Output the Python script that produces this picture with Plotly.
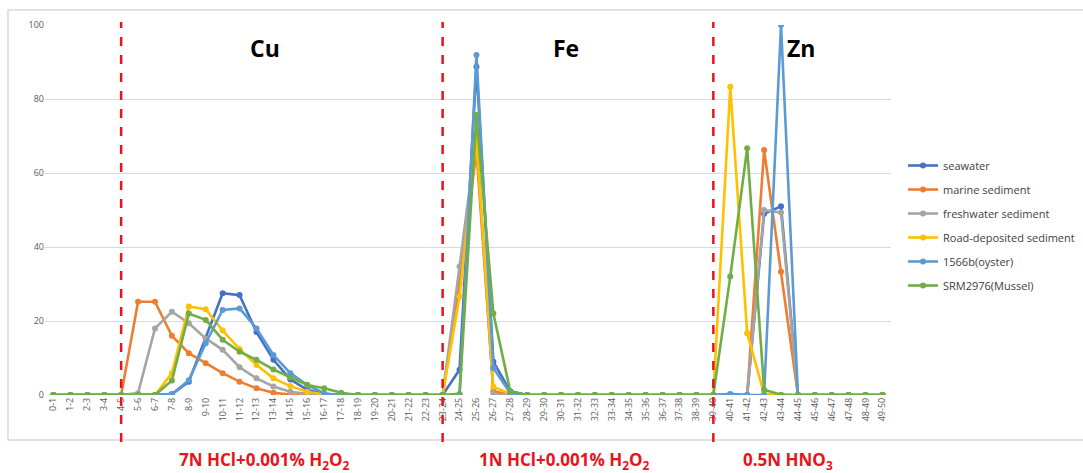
import plotly.graph_objects as go

categories = [f"{i}-{i+1}" for i in range(50)]

def series(nonzero):
    v = [0.0] * 50
    for k, val in nonzero.items():
        v[k] = val
    return v

seawater = series({7: 0.2, 8: 3.6, 9: 15.3, 10: 27.5, 11: 27.0, 12: 17.0, 13: 9.5, 14: 4.2, 15: 1.4, 16: 0.3,
                   24: 6.8, 25: 88.7, 26: 9.0, 27: 1.0,
                   42: 49.0, 43: 51.0})
marine = series({5: 25.2, 6: 25.2, 7: 16.0, 8: 11.3, 9: 8.6, 10: 5.9, 11: 3.6, 12: 1.8, 13: 0.6, 14: 0.1,
                 24: 30.0, 25: 66.0, 26: 1.0,
                 42: 66.2, 43: 33.3})
freshwater = series({5: 0.5, 6: 18.0, 7: 22.5, 8: 19.4, 9: 15.3, 10: 12.2, 11: 7.5, 12: 4.5, 13: 2.3, 14: 0.9, 15: 0.3,
                     24: 34.7, 25: 70.0, 26: 0.2,
                     42: 50.0, 43: 49.3})
road = series({7: 5.9, 8: 23.9, 9: 23.2, 10: 17.4, 11: 12.4, 12: 8.1, 13: 4.5, 14: 2.4, 15: 0.9, 16: 0.2,
               24: 26.6, 25: 69.0, 26: 2.2, 27: 0.3,
               40: 83.3, 41: 16.7, 42: 0.3})
oyster = series({7: 0.3, 8: 4.0, 9: 14.0, 10: 23.0, 11: 23.4, 12: 18.0, 13: 10.8, 14: 5.9, 15: 2.7, 16: 0.4,
                 24: 0.3, 25: 91.9, 26: 7.3, 27: 0.5,
                 40: 0.3, 43: 100.0})
mussel = series({7: 3.9, 8: 22.0, 9: 20.3, 10: 14.9, 11: 11.7, 12: 9.5, 13: 6.9, 14: 4.7, 15: 2.7, 16: 1.8, 17: 0.6,
                 25: 75.7, 26: 22.0, 27: 1.0,
                 40: 32.0, 41: 66.7, 42: 1.4, 43: 0.1})

names = ["seawater", "marine sediment", "freshwater sediment", "Road-deposited sediment", "1566b(oyster)", "SRM2976(Mussel)"]
colors = ["#4472C4", "#ED7D31", "#A5A5A5", "#FFC000", "#5B9BD5", "#70AD47"]
data = [seawater, marine, freshwater, road, oyster, mussel]

divider_idx = [4, 23, 39]
element_labels = ["Cu", "Fe", "Zn"]
element_x = [12.5, 30.3, 44.2]
reagent_labels = ["7N HCl+0.001% H<sub>2</sub>O<sub>2</sub>", "1N HCl+0.001% H<sub>2</sub>O<sub>2</sub>", "0.5N HNO<sub>3</sub>"]
reagent_x = [12.5, 30.2, 43.4]

fig = go.Figure()
for n, c, d in zip(names, colors, data):
    fig.add_trace(go.Scatter(x=categories, y=d, name=n, mode="lines+markers", legendgroup=n,
                             line=dict(color=c, width=2.6), marker=dict(color=c, size=6)))

W, H = 1083, 473
L, R, T, B = 45, 1083 - 891, 25, 473 - 395
pw, ph = W - L - R, H - T - B

def px(x):
    return (x - L) / pw

def py(y):
    return (H - B - y) / ph

shapes = []
# outer chart border
shapes.append(dict(type="rect", xref="paper", yref="paper", x0=px(8), x1=px(1090), y0=py(440), y1=py(10),
                   line=dict(color="#d9d9d9", width=1.5), fillcolor="rgba(0,0,0,0)", layer="below"))
for i in divider_idx:
    shapes.append(dict(type="line", xref="x", yref="paper", x0=categories[i], x1=categories[i],
                       y0=py(442), y1=py(22), line=dict(color="#E8141B", width=2.5, dash="dash")))

annotations = []
for lab, xi in zip(element_labels, element_x):
    annotations.append(dict(x=xi, y=py(48), xref="x", yref="paper", text=f"<b>{lab}</b>", showarrow=False,
                            font=dict(size=23, color="#000000", family="Open Sans, Arial"), xanchor="center", yanchor="middle"))
for lab, xi in zip(reagent_labels, reagent_x):
    annotations.append(dict(x=xi, y=py(460), xref="x", yref="paper", text=f"<b>{lab}</b>", showarrow=False,
                            font=dict(size=17, color="#E8141B", family="Open Sans, Arial"), xanchor="center", yanchor="middle"))

fig.update_layout(
    width=W, height=H, margin=dict(l=L, r=R, t=T, b=B, autoexpand=False),
    paper_bgcolor="white", plot_bgcolor="white",
    showlegend=True,
    legend=dict(x=px(903), y=py(151), xanchor="left", yanchor="top", font=dict(size=11, color="#404040", family="Open Sans, Arial"),
                tracegroupgap=5, itemwidth=30, bgcolor="rgba(0,0,0,0)"),
    xaxis=dict(type="category", range=[-0.5, 49.5], tickangle=-90, tickfont=dict(size=9, color="#595959", family="Open Sans, Arial"),
               showgrid=False, showline=False, zeroline=False, ticks="", automargin=False),
    yaxis=dict(range=[0, 100], dtick=20, tickfont=dict(size=9, color="#595959", family="Open Sans, Arial"),
               gridcolor="#d9d9d9", gridwidth=1, zeroline=False, showline=False, ticks="", automargin=False),
    shapes=shapes, annotations=annotations,
)

fig.write_html("out.html")
